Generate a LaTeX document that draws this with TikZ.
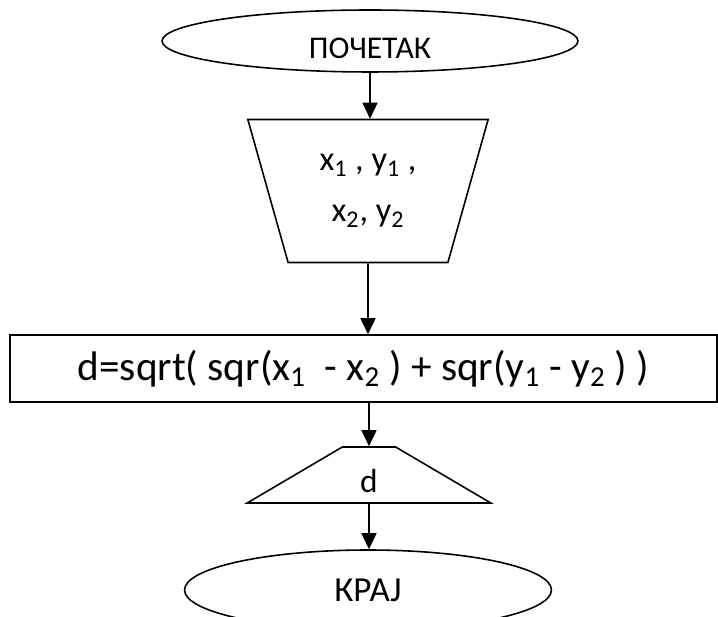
\documentclass[tikz,border=0pt]{standalone}
\usepackage{fontspec}
\setmainfont{Carlito}
\usetikzlibrary{shapes.geometric,arrows.meta}

\tikzset{
  term/.style={draw, ellipse, inner sep=0pt, line width=0.9pt},
  iobox/.style={draw, trapezium, trapezium stretches=true, inner sep=0pt, line width=0.9pt},
  procbox/.style={draw, rectangle, inner sep=0pt, line width=0.9pt},
  flow/.style={-{Triangle[length=0.32cm,width=0.3cm]}, line width=0.9pt}
}

\begin{document}
\begin{tikzpicture}[x=0.02cm,y=-0.02cm]
\useasboundingbox (0,0) rectangle (718,617);
\clip (0,0) rectangle (718,617);
\node[term, minimum width=8.32cm, minimum height=1.24cm, text height=0.72cm, text depth=0pt,
  font=\fontsize{18}{22}\selectfont] (start) at (370,41) {ПОЧЕТАК};
\node[iobox, shape border rotate=180, trapezium angle=71.5, minimum width=4.84cm, minimum height=2.86cm,
  align=center, font=\fontsize{19.5}{29}\selectfont] (in1) at (368,191)
  {x\textsubscript{1} , y\textsubscript{1} ,\\ x\textsubscript{2}, y\textsubscript{2}};
\node[procbox, minimum width=14.14cm, minimum height=1.34cm,
  font=\fontsize{23.5}{28}\selectfont] (calc) at (363.5,368.5)
  {d=sqrt( sqr(x\textsubscript{1}~ - x\textsubscript{2} ) + sqr(y\textsubscript{1} - y\textsubscript{2} ) )};
\node[iobox, trapezium angle=48.2, minimum width=4.88cm, minimum height=1.12cm,
  text height=0.7cm, text depth=0pt, font=\fontsize{19}{22}\selectfont] (out) at (369,475) {d};
\node[term, minimum width=7.34cm, minimum height=1.6cm,
  font=\fontsize{20}{24}\selectfont] (stop) at (368,590) {КРАЈ};

\draw[flow] (start) -- (start |- in1.north);
\draw[flow] (in1) -- (in1 |- calc.north);
\draw[flow] (calc.south -| out) -- (out);
\draw[flow] (out.south) -- (out.south |- stop.north);
\end{tikzpicture}
\end{document}
